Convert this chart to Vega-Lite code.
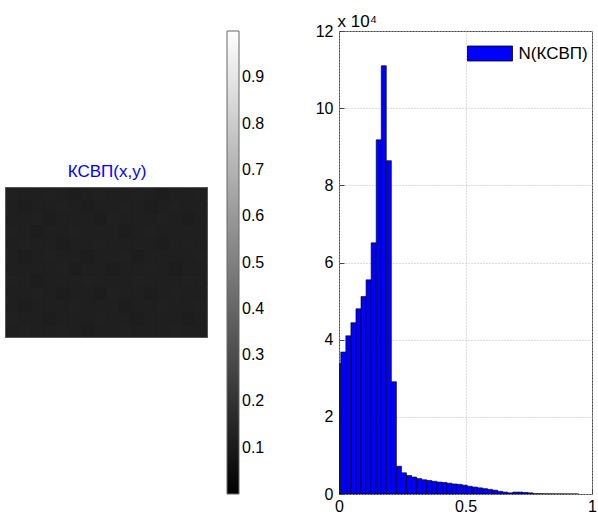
{
  "$schema": "https://vega.github.io/schema/vega-lite/v6.json",
  "autosize": {"type": "pad"},
  "padding": {"left": 5, "top": 11, "right": 5, "bottom": 5},
  "background": "white",
  "config": {"font": "Liberation Sans", "view": {"stroke": null}},
  "bounds": "flush",
  "center": true,
  "spacing": 132,
  "resolve": {"scale": {"color": "independent"}, "legend": {"color": "independent"}},
  "datasets": {
    "img": [
      {"c":0,"r":0,"v":0.125},{"c":1,"r":0,"v":0.12},{"c":2,"r":0,"v":0.12},{"c":3,"r":0,"v":0.125},{"c":4,"r":0,"v":0.12},{"c":5,"r":0,"v":0.115},{"c":6,"r":0,"v":0.12},{"c":7,"r":0,"v":0.125},{"c":8,"r":0,"v":0.12},{"c":9,"r":0,"v":0.12},{"c":10,"r":0,"v":0.125},{"c":11,"r":0,"v":0.12},{"c":12,"r":0,"v":0.115},{"c":13,"r":0,"v":0.12},{"c":14,"r":0,"v":0.12},{"c":15,"r":0,"v":0.125},
      {"c":0,"r":1,"v":0.12},{"c":1,"r":1,"v":0.115},{"c":2,"r":1,"v":0.12},{"c":3,"r":1,"v":0.12},{"c":4,"r":1,"v":0.125},{"c":5,"r":1,"v":0.12},{"c":6,"r":1,"v":0.115},{"c":7,"r":1,"v":0.12},{"c":8,"r":1,"v":0.12},{"c":9,"r":1,"v":0.125},{"c":10,"r":1,"v":0.12},{"c":11,"r":1,"v":0.115},{"c":12,"r":1,"v":0.12},{"c":13,"r":1,"v":0.125},{"c":14,"r":1,"v":0.12},{"c":15,"r":1,"v":0.12},
      {"c":0,"r":2,"v":0.12},{"c":1,"r":2,"v":0.12},{"c":2,"r":2,"v":0.125},{"c":3,"r":2,"v":0.115},{"c":4,"r":2,"v":0.12},{"c":5,"r":2,"v":0.12},{"c":6,"r":2,"v":0.12},{"c":7,"r":2,"v":0.115},{"c":8,"r":2,"v":0.125},{"c":9,"r":2,"v":0.12},{"c":10,"r":2,"v":0.12},{"c":11,"r":2,"v":0.12},{"c":12,"r":2,"v":0.125},{"c":13,"r":2,"v":0.12},{"c":14,"r":2,"v":0.115},{"c":15,"r":2,"v":0.12},
      {"c":0,"r":3,"v":0.125},{"c":1,"r":3,"v":0.12},{"c":2,"r":3,"v":0.115},{"c":3,"r":3,"v":0.12},{"c":4,"r":3,"v":0.12},{"c":5,"r":3,"v":0.125},{"c":6,"r":3,"v":0.12},{"c":7,"r":3,"v":0.12},{"c":8,"r":3,"v":0.12},{"c":9,"r":3,"v":0.115},{"c":10,"r":3,"v":0.12},{"c":11,"r":3,"v":0.125},{"c":12,"r":3,"v":0.12},{"c":13,"r":3,"v":0.12},{"c":14,"r":3,"v":0.12},{"c":15,"r":3,"v":0.12},
      {"c":0,"r":4,"v":0.12},{"c":1,"r":4,"v":0.125},{"c":2,"r":4,"v":0.12},{"c":3,"r":4,"v":0.12},{"c":4,"r":4,"v":0.115},{"c":5,"r":4,"v":0.12},{"c":6,"r":4,"v":0.12},{"c":7,"r":4,"v":0.125},{"c":8,"r":4,"v":0.12},{"c":9,"r":4,"v":0.12},{"c":10,"r":4,"v":0.12},{"c":11,"r":4,"v":0.12},{"c":12,"r":4,"v":0.115},{"c":13,"r":4,"v":0.12},{"c":14,"r":4,"v":0.125},{"c":15,"r":4,"v":0.12},
      {"c":0,"r":5,"v":0.12},{"c":1,"r":5,"v":0.115},{"c":2,"r":5,"v":0.12},{"c":3,"r":5,"v":0.125},{"c":4,"r":5,"v":0.12},{"c":5,"r":5,"v":0.12},{"c":6,"r":5,"v":0.115},{"c":7,"r":5,"v":0.12},{"c":8,"r":5,"v":0.12},{"c":9,"r":5,"v":0.125},{"c":10,"r":5,"v":0.115},{"c":11,"r":5,"v":0.12},{"c":12,"r":5,"v":0.12},{"c":13,"r":5,"v":0.12},{"c":14,"r":5,"v":0.12},{"c":15,"r":5,"v":0.125},
      {"c":0,"r":6,"v":0.12},{"c":1,"r":6,"v":0.12},{"c":2,"r":6,"v":0.12},{"c":3,"r":6,"v":0.12},{"c":4,"r":6,"v":0.125},{"c":5,"r":6,"v":0.115},{"c":6,"r":6,"v":0.12},{"c":7,"r":6,"v":0.12},{"c":8,"r":6,"v":0.115},{"c":9,"r":6,"v":0.12},{"c":10,"r":6,"v":0.12},{"c":11,"r":6,"v":0.125},{"c":12,"r":6,"v":0.12},{"c":13,"r":6,"v":0.115},{"c":14,"r":6,"v":0.12},{"c":15,"r":6,"v":0.12},
      {"c":0,"r":7,"v":0.125},{"c":1,"r":7,"v":0.12},{"c":2,"r":7,"v":0.115},{"c":3,"r":7,"v":0.12},{"c":4,"r":7,"v":0.12},{"c":5,"r":7,"v":0.12},{"c":6,"r":7,"v":0.125},{"c":7,"r":7,"v":0.12},{"c":8,"r":7,"v":0.12},{"c":9,"r":7,"v":0.12},{"c":10,"r":7,"v":0.125},{"c":11,"r":7,"v":0.12},{"c":12,"r":7,"v":0.12},{"c":13,"r":7,"v":0.12},{"c":14,"r":7,"v":0.125},{"c":15,"r":7,"v":0.12},
      {"c":0,"r":8,"v":0.12},{"c":1,"r":8,"v":0.12},{"c":2,"r":8,"v":0.125},{"c":3,"r":8,"v":0.12},{"c":4,"r":8,"v":0.115},{"c":5,"r":8,"v":0.12},{"c":6,"r":8,"v":0.12},{"c":7,"r":8,"v":0.115},{"c":8,"r":8,"v":0.125},{"c":9,"r":8,"v":0.12},{"c":10,"r":8,"v":0.12},{"c":11,"r":8,"v":0.115},{"c":12,"r":8,"v":0.12},{"c":13,"r":8,"v":0.125},{"c":14,"r":8,"v":0.12},{"c":15,"r":8,"v":0.12},
      {"c":0,"r":9,"v":0.12},{"c":1,"r":9,"v":0.115},{"c":2,"r":9,"v":0.12},{"c":3,"r":9,"v":0.12},{"c":4,"r":9,"v":0.12},{"c":5,"r":9,"v":0.125},{"c":6,"r":9,"v":0.12},{"c":7,"r":9,"v":0.12},{"c":8,"r":9,"v":0.12},{"c":9,"r":9,"v":0.115},{"c":10,"r":9,"v":0.12},{"c":11,"r":9,"v":0.12},{"c":12,"r":9,"v":0.125},{"c":13,"r":9,"v":0.12},{"c":14,"r":9,"v":0.12},{"c":15,"r":9,"v":0.125},
      {"c":0,"r":10,"v":0.125},{"c":1,"r":10,"v":0.12},{"c":2,"r":10,"v":0.12},{"c":3,"r":10,"v":0.115},{"c":4,"r":10,"v":0.12},{"c":5,"r":10,"v":0.12},{"c":6,"r":10,"v":0.12},{"c":7,"r":10,"v":0.125},{"c":8,"r":10,"v":0.12},{"c":9,"r":10,"v":0.12},{"c":10,"r":10,"v":0.115},{"c":11,"r":10,"v":0.12},{"c":12,"r":10,"v":0.12},{"c":13,"r":10,"v":0.12},{"c":14,"r":10,"v":0.115},{"c":15,"r":10,"v":0.12},
      {"c":0,"r":11,"v":0.12},{"c":1,"r":11,"v":0.125},{"c":2,"r":11,"v":0.12},{"c":3,"r":11,"v":0.12},{"c":4,"r":11,"v":0.125},{"c":5,"r":11,"v":0.12},{"c":6,"r":11,"v":0.115},{"c":7,"r":11,"v":0.12},{"c":8,"r":11,"v":0.12},{"c":9,"r":11,"v":0.125},{"c":10,"r":11,"v":0.12},{"c":11,"r":11,"v":0.12},{"c":12,"r":11,"v":0.12},{"c":13,"r":11,"v":0.125},{"c":14,"r":11,"v":0.12},{"c":15,"r":11,"v":0.12}
    ],
    "hist": [
      {"x0":-0.013,"x1":0.007,"n":33800},
      {"x0":0.007,"x1":0.027,"n":36800},
      {"x0":0.027,"x1":0.047,"n":41000},
      {"x0":0.047,"x1":0.067,"n":44400},
      {"x0":0.067,"x1":0.087,"n":48000},
      {"x0":0.087,"x1":0.107,"n":51200},
      {"x0":0.107,"x1":0.127,"n":55500},
      {"x0":0.127,"x1":0.147,"n":65100},
      {"x0":0.147,"x1":0.167,"n":91800},
      {"x0":0.167,"x1":0.187,"n":111000},
      {"x0":0.187,"x1":0.207,"n":86400},
      {"x0":0.207,"x1":0.227,"n":29100},
      {"x0":0.227,"x1":0.247,"n":7200},
      {"x0":0.247,"x1":0.267,"n":5500},
      {"x0":0.267,"x1":0.287,"n":4800},
      {"x0":0.287,"x1":0.307,"n":4400},
      {"x0":0.307,"x1":0.327,"n":4000},
      {"x0":0.327,"x1":0.347,"n":3700},
      {"x0":0.347,"x1":0.367,"n":3500},
      {"x0":0.367,"x1":0.387,"n":3300},
      {"x0":0.387,"x1":0.407,"n":3100},
      {"x0":0.407,"x1":0.427,"n":3000},
      {"x0":0.427,"x1":0.447,"n":2800},
      {"x0":0.447,"x1":0.467,"n":2600},
      {"x0":0.467,"x1":0.487,"n":2500},
      {"x0":0.487,"x1":0.507,"n":2300},
      {"x0":0.507,"x1":0.527,"n":2000},
      {"x0":0.527,"x1":0.547,"n":1800},
      {"x0":0.547,"x1":0.567,"n":1600},
      {"x0":0.567,"x1":0.587,"n":1400},
      {"x0":0.587,"x1":0.607,"n":1200},
      {"x0":0.607,"x1":0.627,"n":1000},
      {"x0":0.627,"x1":0.647,"n":700},
      {"x0":0.647,"x1":0.667,"n":500},
      {"x0":0.667,"x1":0.687,"n":300},
      {"x0":0.687,"x1":0.707,"n":500},
      {"x0":0.707,"x1":0.727,"n":500},
      {"x0":0.727,"x1":0.747,"n":400},
      {"x0":0.747,"x1":0.767,"n":300},
      {"x0":0.767,"x1":0.787,"n":100},
      {"x0":0.787,"x1":0.807,"n":80},
      {"x0":0.807,"x1":0.827,"n":60},
      {"x0":0.827,"x1":0.847,"n":50},
      {"x0":0.847,"x1":0.867,"n":40},
      {"x0":0.867,"x1":0.887,"n":30},
      {"x0":0.887,"x1":0.907,"n":20},
      {"x0":0.907,"x1":0.927,"n":20},
      {"x0":0.927,"x1":0.947,"n":10}
    ]
  },
  "hconcat": [
    {
      "width": 201,
      "height": 149,
      "data": {"name": "img"},
      "view": {"stroke": "#555555", "strokeWidth": 2, "fill": "#1f1f1f"},
      "mark": {"type": "rect"},
      "encoding": {
        "x": {
          "field": "c", "type": "ordinal",
          "scale": {"paddingInner": 0, "paddingOuter": 0},
          "axis": {"orient": "top", "labels": false, "ticks": false, "domain": false, "grid": false, "title": "КСВП(x,y)", "titleColor": "#0000ff", "titleFontSize": 17, "titleFontWeight": "normal", "titleFont": "Liberation Sans", "titlePadding": 8}
        },
        "y": {"field": "r", "type": "ordinal", "axis": null, "scale": {"paddingInner": 0, "paddingOuter": 0}},
        "color": {
          "field": "v", "type": "quantitative",
          "scale": {"domain": [0, 1], "range": ["#000000", "#ffffff"], "interpolate": "rgb"},
          "legend": {
            "orient": "none", "legendX": 221, "legendY": -157, "direction": "vertical",
            "gradientLength": 463, "gradientThickness": 12, "title": null,
            "values": [0.1, 0.2, 0.3, 0.4, 0.5, 0.6, 0.7, 0.8, 0.9],
            "labelFontSize": 16, "labelFont": "Liberation Sans", "labelColor": "#000000", "labelOffset": 3,
            "gradientStrokeColor": "#666666", "gradientStrokeWidth": 1
          }
        }
      }
    },
    {
      "width": 253,
      "height": 463,
      "data": {"name": "hist"},
      "view": {"stroke": "#444444", "strokeWidth": 1},
      "mark": {"type": "rect", "stroke": "#000000", "strokeWidth": 0.6, "clip": true},
      "encoding": {
        "x": {
          "field": "x0", "type": "quantitative",
          "scale": {"domain": [0, 1], "nice": false, "zero": false},
          "axis": {"values": [0, 0.5, 1], "format": "~g", "title": null, "grid": true, "gridDash": [1, 2], "gridColor": "#bbbbbb", "ticks": true, "tickSize": -5, "tickColor": "#444444", "domain": false, "labelFontSize": 16, "labelFont": "Liberation Sans", "labelColor": "#000000", "labelPadding": 9, "labelFlush": false}
        },
        "x2": {"field": "x1"},
        "y": {
          "field": "n", "type": "quantitative",
          "scale": {"domain": [0, 120000], "nice": false},
          "axis": {"values": [0, 20000, 40000, 60000, 80000, 100000, 120000], "labelExpr": "'' + datum.value / 10000", "title": "x 10⁴", "titleAngle": 0, "titleAlign": "left", "titleBaseline": "alphabetic", "titleX": -2, "titleY": -5, "titleFontSize": 17, "titleFontWeight": "normal", "titleFont": "Liberation Sans", "grid": true, "gridDash": [1, 2], "gridColor": "#bbbbbb", "ticks": true, "tickSize": -5, "tickColor": "#444444", "domain": false, "labelFontSize": 16, "labelFont": "Liberation Sans", "labelColor": "#000000", "labelPadding": 11, "labelFlush": false}
        },
        "y2": {"datum": 0},
        "color": {
          "datum": "N(КСВП)", "type": "nominal",
          "scale": {"range": ["#0000ff"]},
          "legend": {
            "orient": "none", "legendX": 135.5, "legendY": 7, "title": null,
            "symbolType": "M-1.5,-0.5H1.5V0.5H-1.5Z", "symbolSize": 900,
            "symbolStrokeColor": "#000000", "symbolStrokeWidth": 0.8, "symbolOpacity": 1,
            "labelFontSize": 17, "labelFont": "Liberation Sans", "labelColor": "#000000", "labelOffset": 13
          }
        }
      }
    }
  ]
}
